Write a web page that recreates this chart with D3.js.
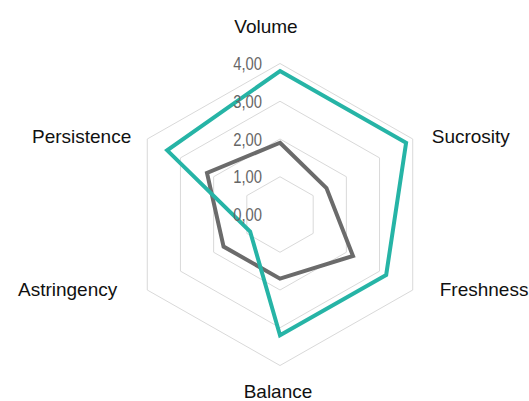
<!DOCTYPE html>
<html>
<head>
<meta charset="utf-8">
<script src="https://cdn.jsdelivr.net/npm/d3@7"></script>
<style>
  html, body { margin: 0; padding: 0; background: #fff; }
  svg { display: block; }
</style>
</head>
<body>
<svg id="chart" width="529" height="401"></svg>
<script>
// ---- data ----
const categories = ["Volume", "Sucrosity", "Freshness", "Balance", "Astringency", "Persistence"];
const seriesTeal = [3.8, 3.8, 3.2, 3.2, 0.9, 3.4];
const seriesGray = [1.9, 1.4, 2.2, 1.7, 1.7, 2.2];
const tickValues = [0, 1, 2, 3, 4];
const tickLabels = ["0,00", "1,00", "2,00", "3,00", "4,00"];

// ---- layout ----
const cx = 280, cy = 214.5;
const rMax = 151, kx = 1.015;
const svg = d3.select("#chart");
const r = d3.scaleLinear().domain([0, 4]).range([0, rMax]);
const angle = d3.scalePoint().domain(categories).range([0, 2 * Math.PI * (categories.length - 1) / categories.length]);

function pt(cat, v) {
  const a = angle(cat);
  return [cx + Math.sin(a) * r(v) * kx, cy - Math.cos(a) * r(v)];
}

// grid
const gridG = svg.append("g");
tickValues.filter(t => t > 0).forEach(t => {
  gridG.append("path")
    .attr("d", d3.line()(categories.map(c => pt(c, t))) + "Z")
    .attr("fill", "none")
    .attr("stroke", "#d9d9d9")
    .attr("stroke-width", 1);
});

// series
function drawSeries(vals, color) {
  svg.append("path")
    .attr("d", d3.line()(categories.map((c, i) => pt(c, vals[i]))) + "Z")
    .attr("fill", "none")
    .attr("stroke", color)
    .attr("stroke-width", 4)
    .attr("stroke-linejoin", "miter");
}
drawSeries(seriesGray, "#6b6b6b");
drawSeries(seriesTeal, "#26b4a6");

// tick labels (condensed look)
const tx = cx - 18;
svg.append("g").selectAll("text")
  .data(tickValues)
  .join("text")
  .attr("transform", d => `translate(${tx},${cy - r(d)}) scale(0.8,1)`)
  .attr("dy", "0.36em")
  .attr("text-anchor", "end")
  .attr("font-family", "'Liberation Sans', Arial, sans-serif")
  .attr("font-size", 18.5)
  .attr("fill", "#666666")
  .text((d, i) => tickLabels[i]);

// category labels
const labelLayout = {
  "Volume":      { dx: -14, dy: -31, anchor: "middle" },
  "Sucrosity":   { dx: 19,  dy: 4,   anchor: "start" },
  "Freshness":   { dx: 27,  dy: 6,   anchor: "start" },
  "Balance":     { dx: -2,  dy: 32,  anchor: "middle" },
  "Astringency": { dx: -30, dy: 6,   anchor: "end" },
  "Persistence": { dx: -16, dy: 4,   anchor: "end" }
};
svg.append("g").selectAll("text")
  .data(categories)
  .join("text")
  .attr("x", c => pt(c, 4)[0] + labelLayout[c].dx)
  .attr("y", c => pt(c, 4)[1] + labelLayout[c].dy)
  .attr("text-anchor", c => labelLayout[c].anchor)
  .attr("font-family", "'Liberation Sans', Arial, sans-serif")
  .attr("font-size", 19)
  .attr("fill", "#111")
  .text(c => c);
</script>
</body>
</html>
